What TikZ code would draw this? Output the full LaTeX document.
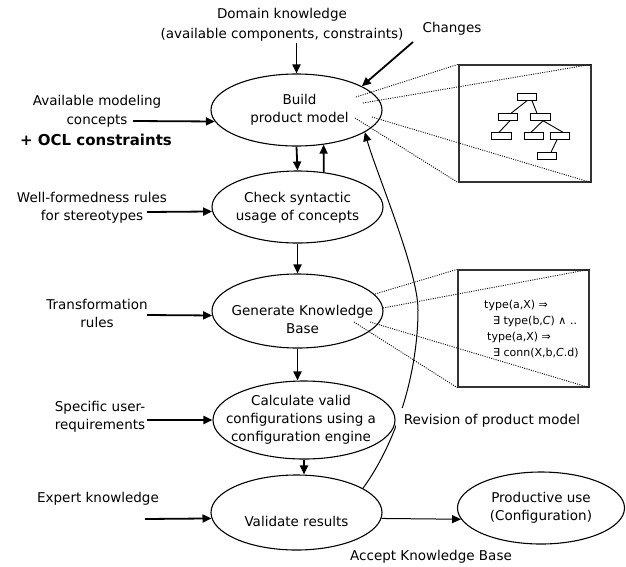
\documentclass[tikz,border=0pt]{standalone}
\usepackage{fontspec}
\setmainfont{DejaVu Sans}
\usetikzlibrary{shapes.geometric,arrows.meta}
\begin{document}
\begin{tikzpicture}[x=1pt,y=-1pt,
  lbl/.style={font=\fontsize{13.5}{18}\selectfont, align=center, inner sep=1pt},
  ltext/.style={font=\fontsize{13.5}{18}\selectfont, align=center, inner sep=0pt},
  proc/.style={draw, ellipse, inner sep=0pt, line width=1.1pt},
  arr/.style={line width=1.8pt, -{Triangle[length=9pt,width=8pt]}},
  thinarr/.style={line width=1pt, -{Triangle[length=9pt,width=8pt]}},
  zoomline/.style={line width=0.9pt, dash pattern=on 1pt off 1.3pt},
  zbox/.style={draw=black!80, line width=1.4pt, inner sep=0pt},
  tn/.style={draw, line width=0.9pt, minimum width=19.5pt, minimum height=6.5pt, inner sep=0pt},
  tedge/.style={line width=0.9pt}]
\useasboundingbox (0,0) rectangle (626,566);

% left / top labels
\node[lbl, font=\fontsize{13.5}{20}\selectfont] (dom) at (282,25) {Domain knowledge\\(available components, constraints)};
\node[lbl] (chg) at (452,29) {Changes};
\node[lbl, font=\fontsize{13.5}{19}\selectfont] (avail) at (97,111) {Available modeling\\concepts};
\node[lbl, font=\bfseries\fontsize{15}{18}\selectfont] (ocl) at (96,140) {+ OCL constraints};
\node[lbl] (wf) at (92,208) {Well-formedness rules\\for stereotypes};
\node[lbl] (tr) at (97,313) {Transformation\\rules};
\node[lbl] (spec) at (100,417) {Specific user-\\requirements};
\node[lbl] (exp) at (98,499) {Expert knowledge};

% start points of the input arrows
\coordinate (sChg) at (413,42);
\coordinate (sAvail) at (133,121);
\coordinate (sWf) at (147,212);
\coordinate (sTr) at (147,315);
\coordinate (sSpec) at (147,420);
\coordinate (sExp) at (145,519);

% process ellipses
\node[proc, minimum width=171pt, minimum height=72pt,
  label={[ltext, xshift=3pt]center:Build\\product model}] (build) at (296.5,110) {};
\node[proc, minimum width=171pt, minimum height=72pt,
  label={[ltext, yshift=-1pt]center:Check syntactic\\usage of concepts}] (check) at (297.5,207) {};
\node[proc, minimum width=171pt, minimum height=74pt,
  label={[ltext, xshift=5pt, yshift=-8pt]center:Generate Knowledge\\Base}] (gen) at (297.5,311) {};
\node[proc, minimum width=182pt, minimum height=78pt,
  label={[ltext, xshift=-3pt]center:Calculate valid\\configurations using a\\configuration engine}] (calc) at (304,420) {};
\node[proc, minimum width=171pt, minimum height=75pt,
  label={[ltext, yshift=-9pt]center:Validate results}] (val) at (296.5,512.5) {};
\node[proc, minimum width=167pt, minimum height=72pt,
  label={[ltext]center:Productive use\\(Configuration)}] (prod) at (541,508) {};

% zoom boxes
\node[zbox, minimum width=132pt, minimum height=117pt] (tbox) at (525,123.5) {};
\node[zbox, minimum width=131pt, minimum height=117pt] (kbox) at (523.5,328.5) {};

% tree inside the first box
\node[tn] (t0) at (527,97) {};
\node[tn] (t1) at (508,117) {};
\node[tn] (t2) at (540.5,117) {};
\node[tn] (t3) at (501.5,136) {};
\node[tn] (t4) at (534,136) {};
\node[tn] (t5) at (560,136) {};
\node[tn] (t6) at (547,156) {};
\draw[tedge] (t0.south) -- ([xshift=3pt]t1.north);
\draw[tedge] ([xshift=5pt]t0.south) -- ([xshift=-3.5pt]t2.north);
\draw[tedge] ([xshift=2pt]t1.south) -- ([xshift=-2.5pt]t3.north);
\draw[tedge] ([xshift=2.5pt]t2.south) -- ([xshift=-3pt]t4.north);
\draw[tedge] ([xshift=2.5pt]t2.south) -- ([xshift=3pt]t5.north);
\draw[tedge] ([xshift=-3pt]t5.south) -- ([xshift=4pt]t6.north);

% formulas inside the second box
\node[font=\fontsize{11}{16}\selectfont, align=left, inner sep=0pt, anchor=west] (kbt) at (484,329)
  {type(a,X) ⇒\\\hspace*{9pt}∃ type(b,\textit{C}) ∧ ..\\\hspace*{3pt}type(a,X) ⇒\\\hspace*{9pt}∃ conn(X,b,\textit{C}.d)};

% dotted zoom lines
\coordinate (d1) at (356,97);
\coordinate (d2) at (363,103);
\coordinate (d3) at (355,118);
\coordinate (d4) at (372,117);
\draw[zoomline] (d1) -- (tbox.north west);
\draw[zoomline] (d2) -- (tbox.north east);
\draw[zoomline] (d3) -- (tbox.south west);
\draw[zoomline] (d4) -- (tbox.south east);
\coordinate (e1) at (375,294);
\coordinate (e2) at (383,308);
\coordinate (e3) at (354,322);
\coordinate (e4) at (370,322);
\draw[zoomline] (e1) -- (kbox.north west);
\draw[zoomline] (e2) -- (kbox.north east);
\draw[zoomline] (e3) -- (kbox.south west);
\draw[zoomline] (e4) -- (kbox.south east);

% connectors
\draw[arr] (dom.south -| build.north) -- (build.north);
\draw[arr] (sChg) -- (build.20);
\draw[arr] (sAvail) -- (build.188);
\draw[arr] (build.south) -- (check.north);
\draw[arr] (check.53) -- (build.-52);
\draw[arr] (sWf) -- (check.183);
\draw[arr] (check.south) -- (gen.north);
\draw[arr] (sTr) -- (gen.183);
\draw[arr] (gen.south) -- (gen.south |- calc.north);
\draw[arr] (sSpec) -- (calc.west);
\draw[arr] (calc.south) -- (calc.south |- val.north);
\draw[arr] (sExp) -- (val.184);
\draw[thinarr] (val.-4) -- (prod.188);
\draw[thinarr] (val.20) .. controls (398,440) and (418,370) .. (418,310)
  .. controls (418,270) and (376,172) .. (build.-18);

\node[lbl, fill=white, inner xsep=8pt, inner ysep=6pt] (rev) at (492,421) {Revision of product model};
\node[lbl] (acc) at (431,557) {Accept Knowledge Base};
\end{tikzpicture}
\end{document}
